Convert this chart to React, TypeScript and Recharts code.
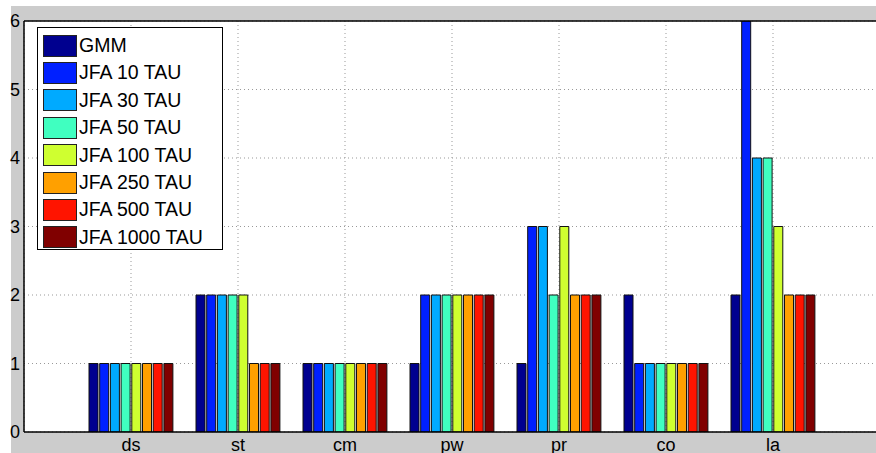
import { BarChart, Bar, XAxis, YAxis, CartesianGrid, ReferenceLine } from "recharts";

const categories = ["ds", "st", "cm", "pw", "pr", "co", "la"];
const seriesNames = [
  "GMM",
  "JFA 10 TAU",
  "JFA 30 TAU",
  "JFA 50 TAU",
  "JFA 100 TAU",
  "JFA 250 TAU",
  "JFA 500 TAU",
  "JFA 1000 TAU",
];
const seriesColors = ["#00008f", "#0020ff", "#00aaff", "#40ffc0", "#cfff30", "#ffa000", "#ff1400", "#800000"];

const gmm = [1, 2, 1, 1, 1, 2, 2];
const jfa10 = [1, 2, 1, 2, 3, 1, 6];
const jfa30 = [1, 2, 1, 2, 3, 1, 4];
const jfa50 = [1, 2, 1, 2, 2, 1, 4];
const jfa100 = [1, 2, 1, 2, 3, 1, 3];
const jfa250 = [1, 1, 1, 2, 2, 1, 2];
const jfa500 = [1, 1, 1, 2, 2, 1, 2];
const jfa1000 = [1, 1, 1, 2, 2, 1, 2];
const yTicks = [0, 1, 2, 3, 4, 5, 6];

const seriesValues = [gmm, jfa10, jfa30, jfa50, jfa100, jfa250, jfa500, jfa1000];
const keys = seriesNames.map((_, i) => `s${i}`);

const data = categories.map((c, ci) => {
  const row: Record<string, string | number> = { cat: c };
  seriesValues.forEach((vals, si) => {
    row[keys[si]] = vals[ci];
  });
  return row;
});

function LegendBox() {
  return (
    <div
      style={{
        position: "absolute",
        left: 37,
        top: 27,
        boxSizing: "border-box",
        width: 186,
        height: 223,
        background: "#fff",
        border: "1px solid #000",
        paddingTop: 4,
        paddingLeft: 5,
      }}
    >
      {seriesNames.map((name, i) => (
        <div key={name} style={{ display: "flex", alignItems: "center", height: 27.4 }}>
          <div
            style={{
              boxSizing: "border-box",
              width: 34,
              height: 22,
              background: seriesColors[i],
              border: "1px solid #222",
              marginRight: 2,
            }}
          />
          <span style={{ fontSize: 19.5, color: "#000", lineHeight: 1 }}>{name}</span>
        </div>
      ))}
    </div>
  );
}

export default function App() {
  return (
    <div
      style={{
        position: "fixed",
        left: 0,
        top: 0,
        width: 876,
        height: 453,
        overflow: "hidden",
        background: "#fff",
        fontFamily: "'Liberation Sans', Arial, sans-serif",
      }}
    >
      <div style={{ position: "absolute", left: 11, top: 6, width: 865, height: 447, background: "#cccccc" }} />
      <div style={{ position: "absolute", left: 0, top: 0 }}>
        <BarChart
          width={900}
          height={453}
          data={data}
          margin={{ top: 21, right: 20, left: 0, bottom: 0 }}
          barCategoryGap={11.5}
          barGap={1.7}
        >
          <CartesianGrid fill="#fff" stroke="#999" strokeDasharray="1 3" />
          <XAxis
            dataKey="cat"
            padding={{ left: 53.5, right: 53.5 }}
            height={21}
            tickLine={false}
            tickSize={0}
            tickMargin={6}
            axisLine={{ stroke: "#000", strokeWidth: 1.5 }}
            tick={{ fontSize: 18, fill: "#000" }}
            interval={0}
          />
          <YAxis
            domain={[0, 6]}
            ticks={yTicks}
            width={24}
            tickLine={false}
            tickSize={0}
            tickMargin={4}
            axisLine={{ stroke: "#000", strokeWidth: 1.5 }}
            tick={{ fontSize: 18, fill: "#000" }}
            allowDataOverflow
          />
          <ReferenceLine y={6} stroke="#000" strokeWidth={1.5} />
          {keys.map((k, i) => (
            <Bar
              key={k}
              dataKey={k}
              name={seriesNames[i]}
              fill={seriesColors[i]}
              stroke="#111"
              strokeWidth={1}
              isAnimationActive={false}
            />
          ))}
        </BarChart>
      </div>
      <LegendBox />
    </div>
  );
}
